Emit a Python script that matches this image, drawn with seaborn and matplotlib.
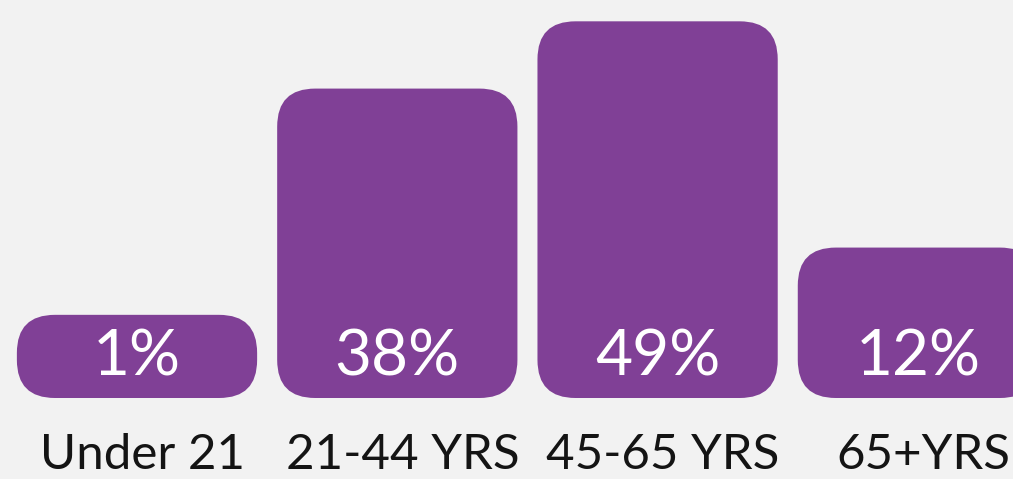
import matplotlib
matplotlib.use("Agg")
import matplotlib.pyplot as plt
import seaborn as sns
from matplotlib.patches import FancyBboxPatch

categories = ["Under 21", "21-44 YRS", "45-65 YRS", "65+YRS"]
values = [1, 38, 49, 12]
value_labels = ["1%", "38%", "49%", "12%"]

BAR_COLOR = "#804096"
BG = "#f2f2f2"

sns.set_theme(style="white")
plt.rcParams["font.family"] = ["Lato", "DejaVu Sans"]

W, H = 1013, 479
fig = plt.figure(figsize=(W / 100, H / 100), dpi=100, facecolor=BG)
ax = fig.add_axes([0, 0, 1, 1])
ax.set_facecolor(BG)

px_x = 260.3   # px per category unit
px_y = 6.115   # px per percent
offset = 12.6  # visual floor (percent units) below zero
base = -offset
ylo = base - 81 / px_y
yhi = ylo + H / px_y
xlo = -137 / px_x
xhi = xlo + W / px_x

sns.barplot(x=categories, y=values, color=BAR_COLOR, width=0.923,
            saturation=1, ax=ax)

ax.set_xlim(xlo, xhi)
ax.set_ylim(ylo, yhi)

radius_px = 38
r = radius_px / px_x
aspect = px_x / px_y
bars = list(ax.patches)
for p in bars:
    x0, w, h = p.get_x(), p.get_width(), p.get_height()
    p.remove()
    fb = FancyBboxPatch((x0, base), w, h - base,
                        boxstyle=f"round,pad=0,rounding_size={r}",
                        mutation_aspect=aspect,
                        facecolor=BAR_COLOR, edgecolor="none")
    ax.add_patch(fb)

label_y = ylo + (479 - 357) / px_y
cat_y = ylo + (479 - 455) / px_y
for i, (c, lab) in enumerate(zip(categories, value_labels)):
    ax.text(i, label_y, lab, color="white", fontsize=46,
            ha="center", va="center")
    ax.text(i + 0.02, cat_y, c, color="#141414", fontsize=35.5,
            ha="center", va="center")

ax.set_axis_off()
fig.savefig("out.png", dpi=100, facecolor=BG)
